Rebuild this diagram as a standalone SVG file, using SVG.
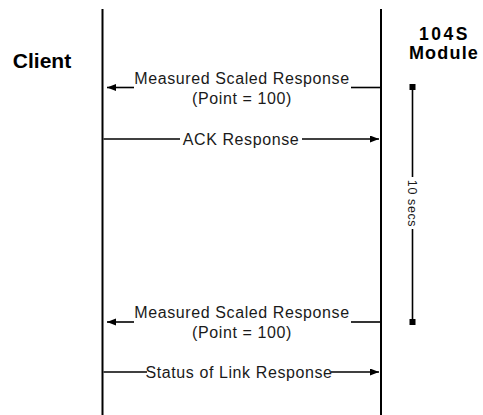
<svg xmlns="http://www.w3.org/2000/svg" width="483" height="415" viewBox="0 0 483 415">
  <style>
    .life { stroke: #000; stroke-width: 2; fill: none; }
    .msg { stroke: #000; stroke-width: 1.6; fill: none; }
    .head { font-family: "Liberation Sans", Arial, sans-serif; font-weight: bold; fill: #000; text-anchor: middle; }
    .lbl { font-family: "Liberation Sans", Arial, sans-serif; font-size: 16px; letter-spacing: 0.6px; fill: #1a1a1a; text-anchor: middle; }
    .small { font-family: "Liberation Sans", Arial, sans-serif; font-size: 12.5px; letter-spacing: 0.6px; fill: #1a1a1a; text-anchor: middle; }
  </style>
  <defs>
    <marker id="arrow" markerUnits="userSpaceOnUse" markerWidth="10" markerHeight="8" refX="9" refY="3.5" orient="auto">
      <path d="M0,0 L9,3.5 L0,7 z" fill="#000"/>
    </marker>
  </defs>
  <rect width="483" height="415" fill="#fff"/>

  <g id="client">
    <line class="life" x1="102.5" y1="9" x2="102.5" y2="415"/>
    <text class="head" x="42" y="68" font-size="21">Client</text>
  </g>

  <g id="module">
    <line class="life" x1="381" y1="9" x2="381" y2="415"/>
    <text class="head" x="444.5" y="39.5" font-size="17.5" letter-spacing="2.5">104S</text>
    <text class="head" x="444" y="59" font-size="18" letter-spacing="1.2">Module</text>
  </g>

  <g id="interval">
    <rect x="409.5" y="84" width="6" height="6" fill="#000"/>
    <rect x="409.5" y="319" width="6" height="6" fill="#000"/>
    <line class="msg" x1="412.5" y1="87" x2="412.5" y2="177"/>
    <line class="msg" x1="412.5" y1="229" x2="412.5" y2="322"/>
    <text class="small" transform="translate(407.5,203.5) rotate(90)">10 secs</text>
  </g>

  <g id="connectors">
    <line class="msg" x1="134" y1="87.5" x2="107" y2="87.5" marker-end="url(#arrow)"/>
    <line class="msg" x1="351" y1="87.5" x2="380" y2="87.5"/>
    <line class="msg" x1="103.5" y1="139" x2="180" y2="139"/>
    <line class="msg" x1="302" y1="139" x2="379" y2="139" marker-end="url(#arrow)"/>
    <line class="msg" x1="134" y1="322" x2="107" y2="322" marker-end="url(#arrow)"/>
    <line class="msg" x1="351" y1="322" x2="380" y2="322"/>
    <line class="msg" x1="103.5" y1="372" x2="147" y2="372"/>
    <line class="msg" x1="331" y1="372" x2="379" y2="372" marker-end="url(#arrow)"/>
  </g>

  <g id="labels">
    <text class="lbl" x="242" y="84">Measured Scaled Response</text>
    <text class="lbl" x="242" y="104">(Point = 100)</text>
    <text class="lbl" x="241" y="145">ACK Response</text>
    <text class="lbl" x="242" y="318">Measured Scaled Response</text>
    <text class="lbl" x="242" y="338">(Point = 100)</text>
    <text class="lbl" x="239" y="378">Status of Link Response</text>
  </g>
</svg>
